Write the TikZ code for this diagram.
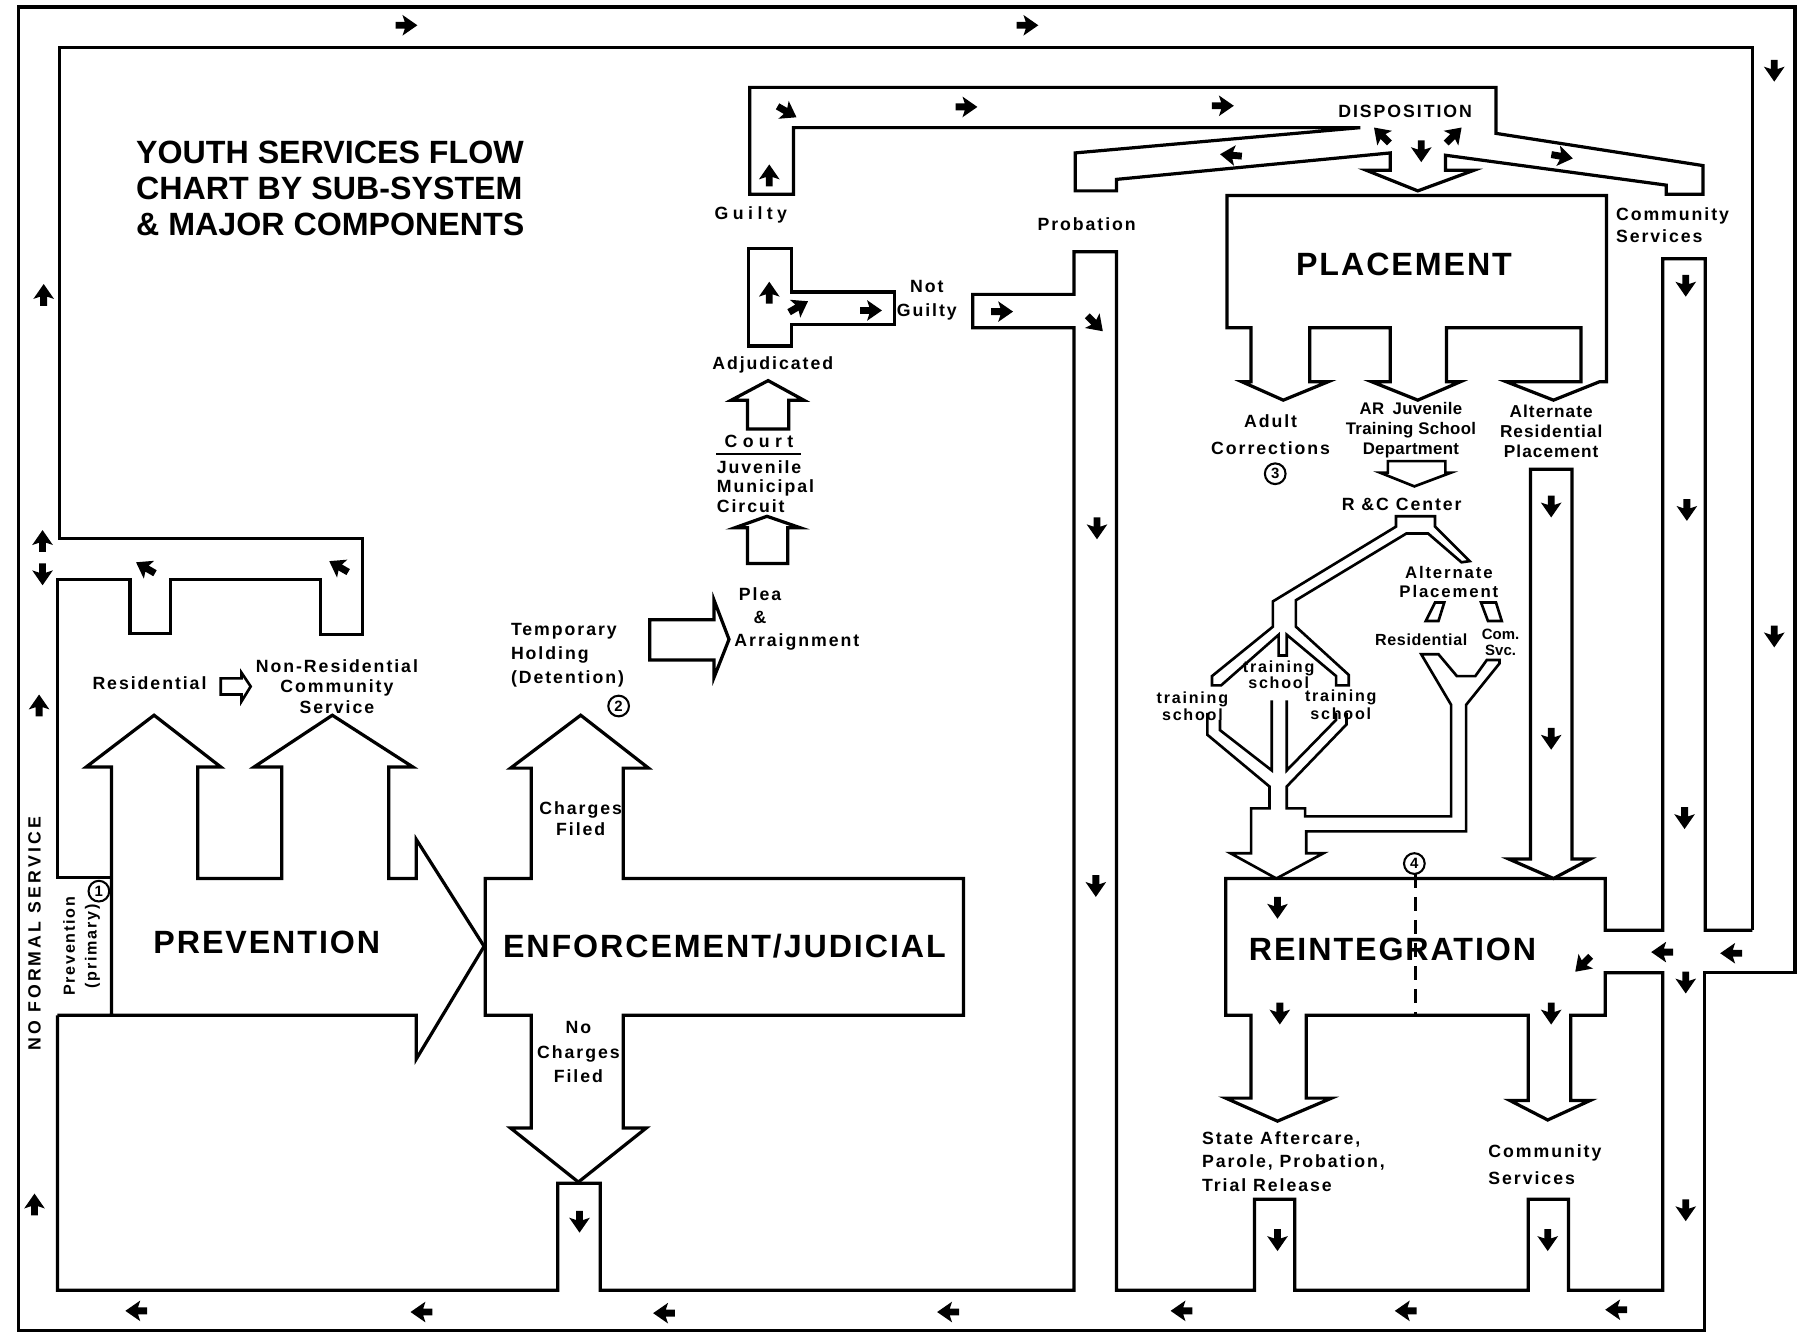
\documentclass[tikz,border=0pt]{standalone}
\usepackage{fontspec}
\setmainfont{Liberation Sans}
\newfontfamily\lblfont[LetterSpace=11]{Liberation Sans}
\newfontfamily\bigfont[LetterSpace=6]{Liberation Sans}
\usetikzlibrary{calc}

\tikzset{
  channel/.style={draw=black, line width=1.4pt, line join=miter},
  thinchannel/.style={draw=black, line width=1.15pt, line join=miter},
  lbl/.style={font=\lblfont\bfseries\fontsize{7.7}{9.5}\selectfont, inner sep=0pt, align=center},
  biglbl/.style={font=\bigfont\bfseries\fontsize{14}{16}\selectfont, inner sep=0pt},
  titlelbl/.style={font=\bfseries\fontsize{14}{15.75}\selectfont, inner sep=0pt, align=left},
  numcirc/.style={circle, draw, line width=0.9pt, inner sep=0pt, minimum size=9pt, font=\bfseries\fontsize{6.5}{7}\selectfont},
  flowdart/.pic={\fill (10,0) -- (-3,9) -- (-1,3) -- (-9,3) -- (-9,-3) -- (-1,-3) -- (-3,-9) -- cycle;}
}

\begin{document}
\begin{tikzpicture}[x=0.5pt, y=-0.5pt]
    \useasboundingbox (0,0) rectangle (1568,1160);

    % outer loop
    \draw[channel] (1482,1157) -- (16,1157) -- (16,6) -- (1561,6) -- (1561,846) -- (1482,846) -- cycle;
    \draw[channel] (1524,809) -- (1524,41) -- (52,41) -- (52,468) -- (315,468) -- (315,552) -- (279,552) -- (279,504) -- (148,504) -- (148,551) -- (113,551) -- (113,504) -- (50,504) -- (50,763) -- (97,763);
    \draw[channel] (50,883) -- (50,1122) -- (485,1122) -- (485,1029) -- (522,1029) -- (522,1122) -- (934,1122) -- (934,285) -- (846,285) -- (846,256) -- (934,256) -- (934,219) -- (971,219) -- (971,1122) -- (1091,1122) -- (1091,1043) -- (1126,1043) -- (1126,1122) -- (1329,1122) -- (1329,1043) -- (1364,1043) -- (1364,1122) -- (1446,1122) -- (1446,846) -- (1396,846) -- (1396,883) -- (1366,883) -- (1366,957) -- (1383,957) -- (1346,974) -- (1313,957) -- (1329,957) -- (1329,883) -- (1136,883) -- (1136,955) -- (1158,955) -- (1111,975) -- (1066,955) -- (1088,955) -- (1088,883) -- (1066,883) -- (1066,764) -- (1396,764) -- (1396,809) -- (1446,809) -- (1446,225) -- (1483,225) -- (1483,809) -- (1524,809);

    % prevention and enforcement
    \draw[channel] (97,883) -- (97,667) -- (75,667) -- (134,622) -- (192,667) -- (172,667) -- (172,764) -- (245,764) -- (245,667) -- (221,667) -- (289,622) -- (359,667) -- (338,667) -- (338,764) -- (362,764) -- (362,730) -- (421,823) -- (362,921) -- (362,883) -- (50,883);
    \draw[channel] (422,764) -- (462,764) -- (462,668) -- (444,668) -- (505,622) -- (564,668) -- (542,668) -- (542,764) -- (838,764) -- (838,883) -- (542,883) -- (542,981) -- (562,981) -- (503,1028) -- (444,981) -- (462,981) -- (462,883) -- (422,883) -- cycle;
    \draw[thinchannel] (192,590) -- (210,590) -- (210,585) -- (218,597) -- (210,610) -- (210,604) -- (192,604) -- cycle;
    \draw[channel] (565,539) -- (621,539) -- (621,522) -- (634,556) -- (621,589) -- (621,574) -- (565,574) -- cycle;

    % court column
    \draw[channel] (650,490) -- (650,459) -- (639,459) -- (667,449) -- (696,459) -- (685,459) -- (685,490) -- cycle;
    \draw[channel] (650,373) -- (650,348) -- (636,348) -- (668,331) -- (699,348) -- (686,348) -- (686,373) -- cycle;
    \draw[line width=1pt] (623,395) -- (697,395);
    \draw[channel] (651,216) -- (688,216) -- (688,254) -- (778,254) -- (778,282) -- (688,282) -- (688,301) -- (651,301) -- cycle;

    % guilty channel to disposition
    \draw[channel] (652,169) -- (652,76) -- (1301,76) -- (1301,116) -- (1481,144) -- (1481,169) -- (1449,169) -- (1449,161) -- (1257,135) -- (1257,148) -- (1282,148) -- (1233,166) -- (1188,148) -- (1209,148) -- (1209,133) -- (971,156) -- (971,166) -- (935,166) -- (935,133) -- (1183,111) -- (690,111) -- (690,169) -- cycle;

    % placement
    \draw[channel] (1067,170) -- (1397,170) -- (1397,332) -- (1391,332) -- (1351,348) -- (1310,332) -- (1375,332) -- (1375,285) -- (1258,285) -- (1258,332) -- (1270,332) -- (1233,348) -- (1193,332) -- (1209,332) -- (1209,285) -- (1139,285) -- (1139,332) -- (1155,332) -- (1116,348) -- (1080,332) -- (1088,332) -- (1088,285) -- (1067,285) -- cycle;
    \draw[thinchannel] (1207,401) -- (1257,401) -- (1257,411) -- (1262,411) -- (1230,423) -- (1200,411) -- (1207,411) -- cycle;
    \draw[channel] (1331,408) -- (1367,408) -- (1367,747) -- (1383,747) -- (1351,764) -- (1312,747) -- (1331,747) -- cycle;

    % R&C tree
    \draw[thinchannel] (1214,458) -- (1214,449) -- (1248,449) -- (1248,458) -- (1278,488) -- (1271,489) -- (1242,464) -- (1223,464) -- (1127,522) -- (1127,545) -- (1173,587) -- (1173,596) -- (1162,596) -- (1162,588) -- (1119,552) -- (1119,570) -- (1112,570) -- (1112,552) -- (1062,596) -- (1054,596) -- (1054,588) -- (1107,545) -- (1107,523) -- cycle;
    \draw[thinchannel] (1248,524) -- (1256,524) -- (1251,540) -- (1240,540) -- cycle;
    \draw[thinchannel] (1288,524) -- (1301,524) -- (1306,540) -- (1294,540) -- cycle;
    \draw[thinchannel] (1050,620) -- (1050,639) -- (1104,684) -- (1104,703) -- (1088,703) -- (1088,742) -- (1070,742) -- (1110,764) -- (1151,742) -- (1136,742) -- (1136,723) -- (1275,723) -- (1275,613) -- (1304,577) -- (1304,574) -- (1293,574) -- (1283,588) -- (1267,588) -- (1251,569) -- (1236,569) -- (1262,613) -- (1262,710) -- (1135,710) -- (1135,703) -- (1119,703) -- (1119,684) -- (1171,630) -- (1171,620);
    \draw[thinchannel] (1061,626) -- (1061,635) -- (1106,670) -- (1106,609);
    \draw[thinchannel] (1119,609) -- (1119,670) -- (1162,626) -- (1162,620);
    \draw[line width=1.1pt, dash pattern=on 6pt off 4pt] (1231,760) -- (1231,883);

    % flow marks
    \pic at (353,22) {flowdart};
    \pic at (893,22) {flowdart};
    \pic[rotate=-90] at (1543,61) {flowdart};
    \pic[rotate=-90] at (1543,553) {flowdart};
    \pic[rotate=180] at (1506,829) {flowdart};
    \pic[rotate=180] at (1446,828) {flowdart};
    \pic[rotate=-90] at (1466,854) {flowdart};
    \pic[rotate=-90] at (1466,1052) {flowdart};
    \pic[rotate=180] at (1406,1139) {flowdart};
    \pic[rotate=180] at (1223,1140) {flowdart};
    \pic[rotate=180] at (1028,1140) {flowdart};
    \pic[rotate=180] at (825,1141) {flowdart};
    \pic[rotate=180] at (578,1142) {flowdart};
    \pic[rotate=180] at (367,1141) {flowdart};
    \pic[rotate=180] at (119,1140) {flowdart};
    \pic[rotate=90] at (30,1048) {flowdart};
    \pic[rotate=90] at (34,614) {flowdart};
    \pic[rotate=-90] at (37,499) {flowdart};
    \pic[rotate=90] at (37,471) {flowdart};
    \pic[rotate=90] at (38,257) {flowdart};
    \pic[rotate=150] at (127,494) {flowdart};
    \pic[rotate=150] at (295,493) {flowdart};
    \pic[rotate=-90] at (504,1062) {flowdart};
    \pic[rotate=90] at (669,153) {flowdart};
    \pic[rotate=-30] at (684,97) {flowdart};
    \pic at (840,93) {flowdart};
    \pic at (1063,92) {flowdart};
    \pic[rotate=135] at (1202,118) {flowdart};
    \pic[rotate=-90] at (1236,131) {flowdart};
    \pic[rotate=45] at (1264,118) {flowdart};
    \pic[rotate=175] at (1071,135) {flowdart};
    \pic[rotate=-10] at (1358,136) {flowdart};
    \pic[rotate=90] at (669,255) {flowdart};
    \pic[rotate=30] at (694,267) {flowdart};
    \pic at (757,270) {flowdart};
    \pic at (871,271) {flowdart};
    \pic[rotate=-45] at (952,281) {flowdart};
    \pic[rotate=-90] at (954,459) {flowdart};
    \pic[rotate=-90] at (953,770) {flowdart};
    \pic[rotate=-90] at (1349,440) {flowdart};
    \pic[rotate=-90] at (1349,642) {flowdart};
    \pic[rotate=-90] at (1466,248) {flowdart};
    \pic[rotate=-90] at (1467,443) {flowdart};
    \pic[rotate=-90] at (1465,711) {flowdart};
    \pic[rotate=-90] at (1111,789) {flowdart};
    \pic[rotate=-90] at (1113,881) {flowdart};
    \pic[rotate=-90] at (1349,881) {flowdart};
    \pic[rotate=-135] at (1377,838) {flowdart};
    \pic[rotate=-90] at (1111,1078) {flowdart};
    \pic[rotate=-90] at (1346,1078) {flowdart};

    % labels
    \node[titlelbl, anchor=north west] (title) at (118,122) {YOUTH SERVICES FLOW\\CHART BY SUB-SYSTEM\\\& MAJOR COMPONENTS};
    \node[biglbl] (prevention) at (232,820) {PREVENTION};
    \node[biglbl] (enforcement) at (630,823) {ENFORCEMENT/JUDICIAL};
    \node[biglbl] (placement) at (1221,230) {PLACEMENT};
    \node[biglbl] (reintegration) at (1211,826) {REINTEGRATION};

    \node[lbl, rotate=90, font=\lblfont\addfontfeatures{LetterSpace=18}\bfseries\fontsize{7.7}{9.5}\selectfont] (noformal) at (30,812) {NO FORMAL SERVICE};
    \node[lbl, rotate=90, font=\lblfont\bfseries\fontsize{7}{9.5}\selectfont] (primary) at (71,823) {Prevention\\(primary)};
    \node[lbl] (residential) at (130,594) {Residential};
    \node[lbl, font=\lblfont\bfseries\fontsize{7.7}{9}\selectfont] (nonres) at (293,597) {Non-Residential\\Community\\Service};
    \node[lbl, anchor=west, align=left, font=\lblfont\bfseries\fontsize{7.7}{10.5}\selectfont] (temphold) at (444,570) {Temporary\\Holding\\(Detention)};
    \node[lbl] (charges) at (505,712) {Charges\\Filed};
    \node[lbl, font=\lblfont\bfseries\fontsize{7.7}{10.5}\selectfont] (nocharges) at (503,915) {No\\Charges\\Filed};
    \node[lbl, font=\lblfont\bfseries\fontsize{7.7}{10}\selectfont] (plea) at (661,527) {Plea\\\&};
    \node[lbl] (arraign) at (693,558) {Arraignment};
    \node[lbl, anchor=west, align=left, font=\lblfont\bfseries\fontsize{7.7}{8.5}\selectfont] (jmc) at (623,423) {Juvenile\\Municipal\\Circuit};
    \node[lbl, font=\lblfont\addfontfeatures{LetterSpace=30}\bfseries\fontsize{7.7}{9.5}\selectfont] (court) at (660,384) {Court};
    \node[lbl] (adjud) at (672,317) {Adjudicated};
    \node[lbl, font=\lblfont\addfontfeatures{LetterSpace=25}\bfseries\fontsize{7.7}{9.5}\selectfont] (guilty) at (653,187) {Guilty};
    \node[lbl, font=\lblfont\bfseries\fontsize{7.7}{10.5}\selectfont] (notguilty) at (806,261) {Not\\Guilty};
    \node[lbl] (probation) at (945,195) {Probation};
    \node[lbl] (disposition) at (1222,97) {DISPOSITION};
    \node[lbl, anchor=west, align=left] (commsvc) at (1405,196) {Community\\Services};
    \node[lbl, font=\lblfont\bfseries\fontsize{7.7}{11.5}\selectfont] (adult) at (1105,378) {Adult\\Corrections};
    \node[lbl, font=\lblfont\addfontfeatures{LetterSpace=2}\bfseries\fontsize{7.3}{8.8}\selectfont] (arjuv) at (1227,374) {AR\enspace Juvenile\\Training School\\Department};
    \node[lbl, font=\lblfont\addfontfeatures{LetterSpace=6}\bfseries\fontsize{7.5}{8.8}\selectfont] (altres) at (1349,375) {Alternate\\Residential\\Placement};
    \node[lbl] (rccenter) at (1219,439) {R \&C Center};
    \node[lbl, font=\lblfont\bfseries\fontsize{7.3}{8.3}\selectfont] (altplace) at (1260,506) {Alternate\\Placement};
    \node[lbl, font=\lblfont\addfontfeatures{LetterSpace=4}\bfseries\fontsize{7}{8.3}\selectfont] (resid2) at (1236,556) {Residential};
    \node[lbl, font=\lblfont\addfontfeatures{LetterSpace=0}\bfseries\fontsize{6.5}{7}\selectfont] (comsvc2) at (1305,559) {Com.\\Svc.};
    \node[lbl, font=\lblfont\bfseries\fontsize{7}{7}\selectfont] (tschoolm) at (1112,587) {training\\school};
    \node[lbl, font=\lblfont\bfseries\fontsize{7}{6.5}\selectfont] (tschooll) at (1037,614) {training\\school};
    \node[lbl, font=\lblfont\bfseries\fontsize{7}{6.5}\selectfont] (tschoolr) at (1166,613) {training\\school};
    \node[lbl, anchor=west, align=left, font=\lblfont\bfseries\fontsize{7.7}{10.25}\selectfont] (aftercare) at (1045,1010) {State Aftercare,\\Parole, Probation,\\Trial Release};
    \node[lbl, anchor=west, align=left, font=\lblfont\bfseries\fontsize{7.7}{12}\selectfont] (commsvc3) at (1294,1013) {Community\\Services};

    \node[numcirc] (num1) at (86,775) {1};
    \node[numcirc] (num2) at (538,614) {2};
    \node[numcirc] (num3) at (1109,412) {3};
    \node[numcirc] (num4) at (1230,751) {4};
\end{tikzpicture}
\end{document}
